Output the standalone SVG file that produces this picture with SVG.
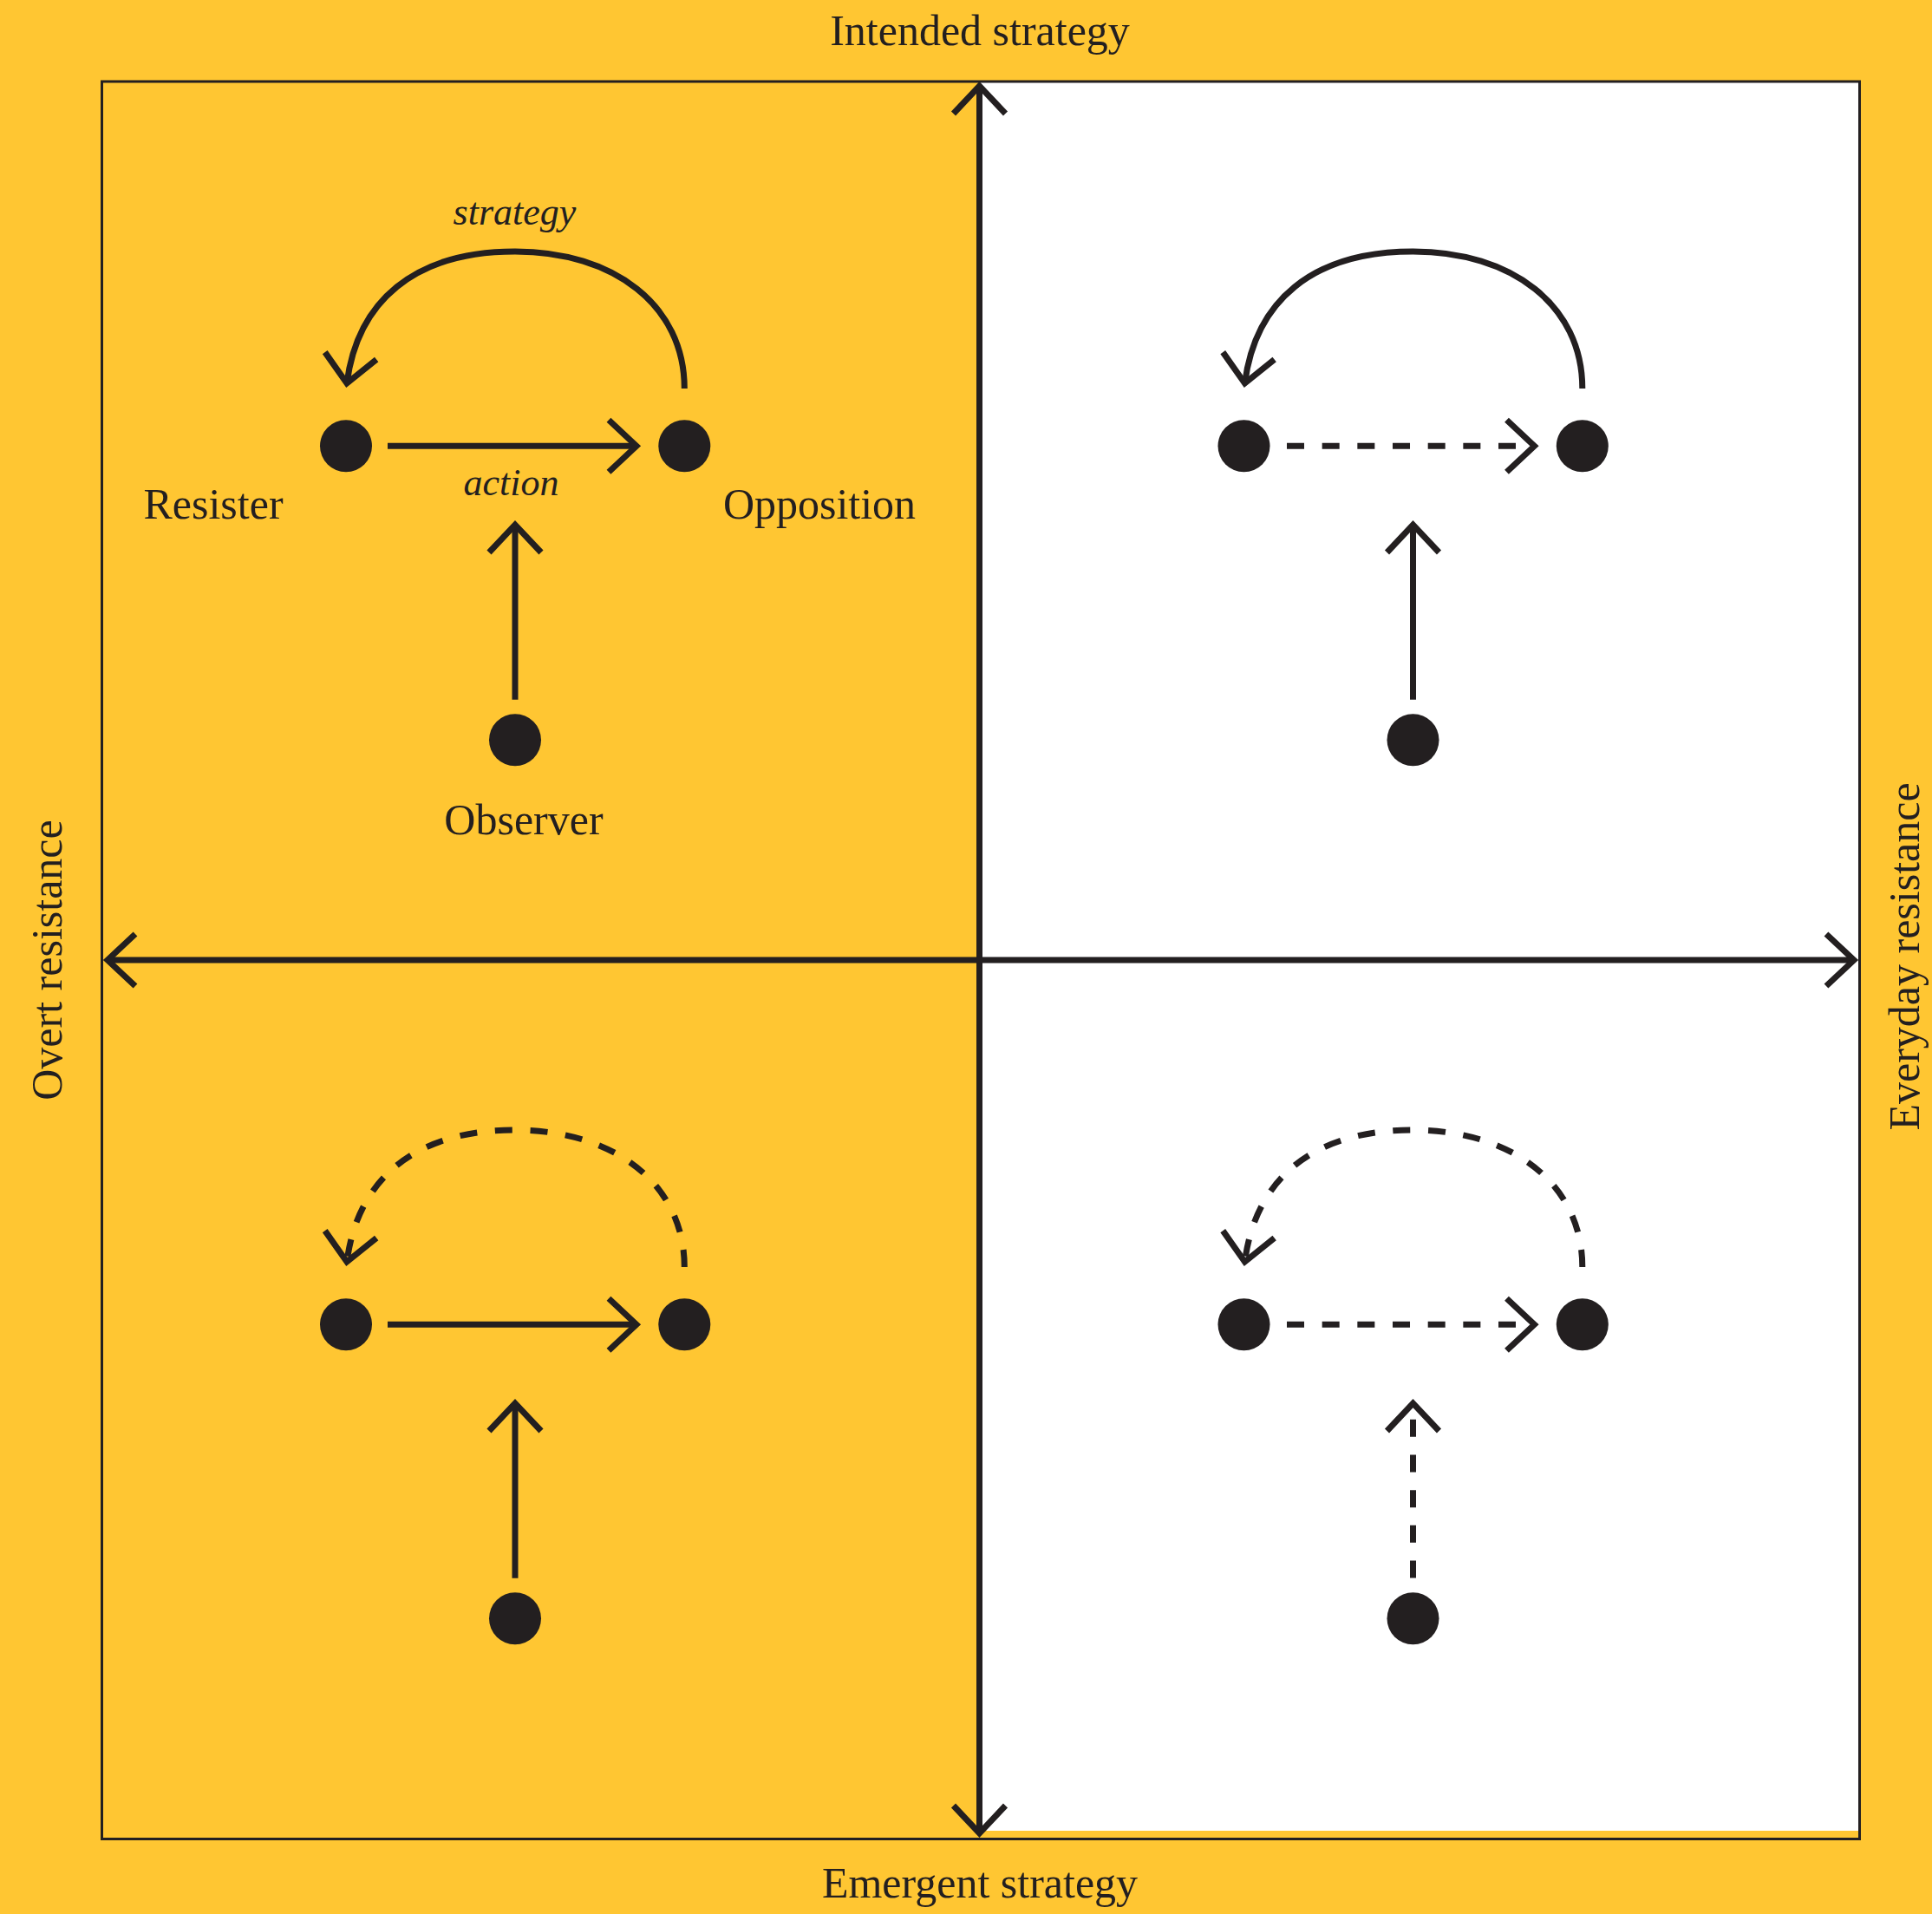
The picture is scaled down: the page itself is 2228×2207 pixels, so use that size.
<svg xmlns="http://www.w3.org/2000/svg" width="2228" height="2207" viewBox="0 0 2228 2207">
<defs>
<style>
.bg{fill:#FFC632}
.white{fill:#FFFFFF}
.frame{fill:none;stroke:#231F20;stroke-width:3}
.ln{fill:none;stroke:#231F20;stroke-width:7;stroke-linecap:butt}
.dash{stroke-dasharray:20 20.67}
.ah{fill:none;stroke:#231F20;stroke-width:7;stroke-linejoin:miter;stroke-miterlimit:10;stroke-linecap:butt;stroke-dasharray:none}
.dot{fill:#231F20}
.lbl{font-family:"Liberation Serif","DejaVu Serif",serif;font-size:50px;fill:#231F20}
.it{font-style:italic;font-size:44px}
.mid{text-anchor:middle}
</style>
<path id="ah" class="ah" d="M -32,-30 L 0,0 L -32,30"/>
<path id="arc" d="M 789.3,448 C 789.3,352 708,290 594,290 C 477,290 412,348 400,442"/>
</defs>

<rect class="bg" x="0" y="0" width="2228" height="2207"/>
<rect class="white" x="1130" y="95" width="1013" height="2016"/>
<rect class="frame" x="117.5" y="94" width="2027" height="2026.5"/>

<g id="axis-labels">
<text class="lbl mid" x="1130" y="52">Intended strategy</text>
<text class="lbl mid" x="1130" y="2188">Emergent strategy</text>
<text class="lbl mid" transform="translate(71,1107) rotate(-90)">Overt resistance</text>
<text class="lbl mid" transform="translate(2213,1103) rotate(-90)">Everyday resistance</text>
</g>

<g id="connectors">
<g id="axes">
<line class="ln" x1="1129.5" y1="99" x2="1129.5" y2="2114"/>
<line class="ln" x1="124" y1="1107" x2="2138" y2="1107"/>
<use href="#ah" transform="translate(1129.5,99) rotate(-90)"/>
<use href="#ah" transform="translate(1129.5,2114) rotate(90)"/>
<use href="#ah" transform="translate(124,1107) rotate(180)"/>
<use href="#ah" transform="translate(2138,1107)"/>
</g>
<g id="tl-connectors">
<line class="ln" x1="447" y1="514.3" x2="734" y2="514.3"/>
<use href="#ah" transform="translate(734,514.3)"/>
<line class="ln" x1="594" y1="806.7" x2="594" y2="605"/>
<use href="#ah" transform="translate(594,605) rotate(-90)"/>
<use href="#arc" class="ln"/>
<use href="#ah" transform="translate(400,442) rotate(98)"/>
</g>
<g id="tr-connectors" transform="translate(1035.5,0)">
<line class="ln dash" x1="448.5" y1="514.3" x2="712.5" y2="514.3"/>
<use href="#ah" transform="translate(734,514.3)"/>
<line class="ln" x1="594" y1="806.7" x2="594" y2="605"/>
<use href="#ah" transform="translate(594,605) rotate(-90)"/>
<use href="#arc" class="ln"/>
<use href="#ah" transform="translate(400,442) rotate(98)"/>
</g>
<g id="bl-connectors" transform="translate(0,1013)">
<line class="ln" x1="447" y1="514.3" x2="734" y2="514.3"/>
<use href="#ah" transform="translate(734,514.3)"/>
<line class="ln" x1="594" y1="806.7" x2="594" y2="605"/>
<use href="#ah" transform="translate(594,605) rotate(-90)"/>
<use href="#arc" class="ln dash"/>
<use href="#ah" transform="translate(400,442) rotate(98)"/>
</g>
<g id="br-connectors" transform="translate(1035.5,1013)">
<line class="ln dash" x1="448.5" y1="514.3" x2="712.5" y2="514.3"/>
<use href="#ah" transform="translate(734,514.3)"/>
<line class="ln dash" x1="594" y1="806.5" x2="594" y2="623"/>
<use href="#ah" transform="translate(594,605) rotate(-90)"/>
<use href="#arc" class="ln dash"/>
<use href="#ah" transform="translate(400,442) rotate(98)"/>
</g>
</g>

<g id="tl-resister"><circle class="dot" cx="399" cy="514.3" r="30"/><text class="lbl mid" x="246" y="598">Resister</text></g>
<g id="tl-opposition"><circle class="dot" cx="789.3" cy="514.3" r="30"/><text class="lbl mid" x="945" y="598">Opposition</text></g>
<g id="tl-observer"><circle class="dot" cx="594" cy="853.3" r="30"/><text class="lbl mid" x="604" y="962">Observer</text></g>
<g id="tl-labels">
<text class="lbl it mid" x="593.5" y="259">strategy</text>
<text class="lbl it mid" x="589.5" y="571">action</text>
</g>

<g id="tr-resister"><circle class="dot" cx="1434.5" cy="514.3" r="30"/></g>
<g id="tr-opposition"><circle class="dot" cx="1824.8" cy="514.3" r="30"/></g>
<g id="tr-observer"><circle class="dot" cx="1629.5" cy="853.3" r="30"/></g>

<g id="bl-resister"><circle class="dot" cx="399" cy="1527.3" r="30"/></g>
<g id="bl-opposition"><circle class="dot" cx="789.3" cy="1527.3" r="30"/></g>
<g id="bl-observer"><circle class="dot" cx="594" cy="1866.3" r="30"/></g>

<g id="br-resister"><circle class="dot" cx="1434.5" cy="1527.3" r="30"/></g>
<g id="br-opposition"><circle class="dot" cx="1824.8" cy="1527.3" r="30"/></g>
<g id="br-observer"><circle class="dot" cx="1629.5" cy="1866.3" r="30"/></g>
</svg>
